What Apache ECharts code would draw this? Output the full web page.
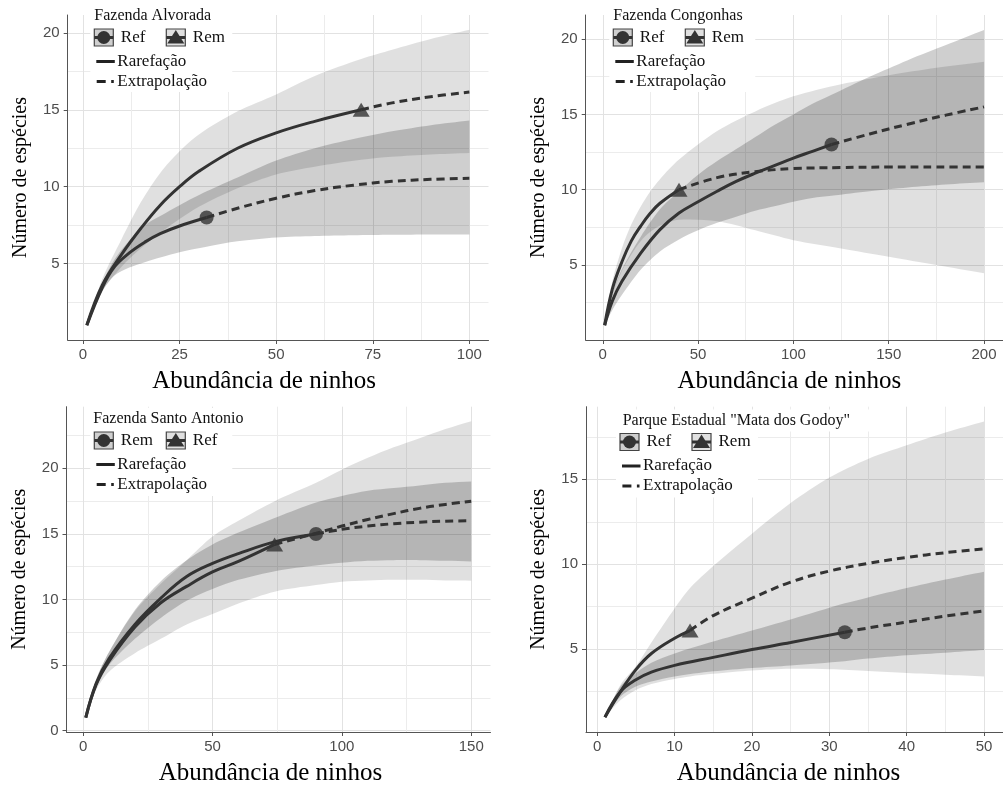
<!DOCTYPE html>
<html>
<head>
<meta charset="utf-8">
<script src="https://cdn.jsdelivr.net/npm/echarts@6/dist/echarts.min.js"></script>
<style>
  html, body { margin: 0; padding: 0; background: #fff; }
  #chart { width: 1003px; height: 787px; }
</style>
</head>
<body>
<div id="chart"></div>
<script>
// ---- data ----
// Fazenda Alvorada
const alvRefX = [1, 5, 8, 12, 16, 20, 25, 32, 40, 50, 60, 70, 80, 90, 100];
const alvRefY = [1, 3.45, 4.75, 5.7, 6.4, 6.95, 7.45, 8.0, 8.6, 9.25, 9.75, 10.1, 10.35, 10.48, 10.55];
const alvRefLo = [1, 3.2, 4.2, 4.75, 5.1, 5.4, 5.75, 6.1, 6.45, 6.7, 6.8, 6.85, 6.88, 6.9, 6.9];
const alvRefHi = [1, 3.7, 5.2, 6.5, 7.5, 8.1, 8.8, 9.7, 10.6, 11.7, 12.5, 13.1, 13.6, 14.0, 14.3];
const alvRemX = [1, 5, 10, 15, 20, 25, 30, 40, 50, 60, 72, 80, 90, 100];
const alvRemY = [1, 3.6, 5.6, 7.3, 8.8, 10.0, 11.0, 12.5, 13.5, 14.25, 15.0, 15.45, 15.85, 16.15];
const alvRemLo = [1, 3.2, 4.8, 6.0, 7.0, 7.9, 8.7, 9.9, 10.8, 11.3, 11.75, 11.95, 12.1, 12.2];
const alvRemHi = [1, 4.0, 6.6, 9.0, 10.9, 12.3, 13.4, 14.9, 16.0, 17.2, 18.3, 18.9, 19.6, 20.2];

// Fazenda Congonhas
const conRefX = [1, 5, 10, 20, 30, 40, 50, 60, 70, 80, 90, 100, 110, 120, 140, 160, 180, 200];
const conRefY = [1, 2.6, 3.9, 5.8, 7.35, 8.45, 9.2, 9.9, 10.55, 11.1, 11.6, 12.1, 12.55, 13, 13.7, 14.35, 14.95, 15.5];
const conRefLo = [1, 2.0, 3.0, 4.7, 5.9, 6.7, 7.3, 7.8, 8.2, 8.6, 8.9, 9.2, 9.45, 9.6, 9.9, 10.15, 10.35, 10.5];
const conRefHi = [1, 3.1, 4.7, 6.9, 8.7, 9.9, 11.0, 11.9, 12.7, 13.5, 14.3, 15.0, 15.7, 16.3, 17.5, 18.6, 19.6, 20.6];
const conRemX = [1, 5, 10, 15, 20, 25, 30, 40, 60, 80, 100, 125, 150, 175, 200];
const conRemY = [1, 3.4, 5.2, 6.6, 7.6, 8.45, 9.1, 10.0, 10.8, 11.2, 11.4, 11.47, 11.5, 11.5, 11.5];
const conRemLo = [1, 3.0, 4.6, 5.7, 6.6, 7.2, 7.6, 8.0, 7.9, 7.3, 6.65, 6.1, 5.55, 5.0, 4.45];
const conRemHi = [1, 3.9, 6.1, 7.7, 8.9, 9.9, 10.7, 12.0, 13.9, 15.2, 16.2, 17.0, 17.6, 18.1, 18.5];

// Fazenda Santo Antonio
const sanRemX = [1, 5, 10, 20, 30, 40, 50, 60, 75, 90, 100, 110, 120, 130, 140, 150];
const sanRemY = [1, 3.6, 5.5, 8.1, 10.1, 11.75, 12.75, 13.5, 14.45, 15.0, 15.35, 15.6, 15.78, 15.9, 15.97, 16.0];
const sanRemLo = [1, 3.3, 5.0, 7.0, 8.6, 9.9, 10.8, 11.5, 12.2, 12.6, 12.8, 12.95, 13.0, 13.0, 12.95, 12.9];
const sanRemHi = [1, 3.9, 6.0, 9.2, 11.4, 13.0, 14.2, 15.1, 16.3, 17.4, 17.9, 18.3, 18.5, 18.7, 18.9, 19.0];
const sanRefX = [1, 5, 10, 20, 30, 40, 50, 60, 74, 90, 100, 110, 120, 130, 140, 150];
const sanRefY = [1, 3.5, 5.3, 7.9, 9.75, 11.0, 12.1, 12.9, 14.2, 15.05, 15.6, 16.1, 16.55, 16.95, 17.25, 17.5];
const sanRefLo = [1, 3.1, 4.5, 5.9, 7.0, 8.1, 8.9, 9.7, 10.6, 11.1, 11.35, 11.45, 11.5, 11.5, 11.45, 11.44];
const sanRefHi = [1, 3.9, 6.0, 9.1, 11.2, 13.0, 14.8, 16.0, 17.5, 18.9, 19.9, 20.8, 21.6, 22.3, 23.0, 23.6];

// Parque Estadual "Mata dos Godoy"
const godRefX = [1, 3, 5, 7, 10, 15, 20, 25, 32, 35, 40, 45, 50];
const godRefY = [1, 2.5, 3.2, 3.65, 4.05, 4.52, 4.98, 5.4, 6.0, 6.25, 6.6, 6.95, 7.25];
const godRefLo = [1, 2.2, 2.8, 3.1, 3.4, 3.7, 3.9, 4.05, 4.3, 4.45, 4.65, 4.8, 4.96];
const godRefHi = [1, 2.8, 3.6, 4.2, 4.75, 5.45, 6.1, 6.75, 7.7, 8.05, 8.6, 9.1, 9.56];
const godRemX = [1, 3, 5, 7, 10, 12, 15, 20, 25, 30, 35, 40, 45, 50];
const godRemY = [1, 2.5, 3.8, 4.75, 5.65, 6.1, 6.98, 8.0, 8.95, 9.6, 10.05, 10.4, 10.68, 10.9];
const godRemLo = [1, 2.0, 2.6, 2.95, 3.25, 3.4, 3.55, 3.75, 3.85, 3.82, 3.72, 3.6, 3.5, 3.4];
const godRemHi = [1, 2.9, 4.0, 5.4, 7.4, 8.6, 9.9, 11.8, 13.6, 15.1, 16.2, 17.0, 17.75, 18.4];

// tick labels
const alvXTicks = [0, 25, 50, 75, 100];
const alvXMinor = [12.5, 37.5, 62.5, 87.5];
const conXTicks = [0, 50, 100, 150, 200];
const conXMinor = [25, 75, 125, 175];
const sanXTicks = [0, 50, 100, 150];
const sanXMinor = [25, 75, 125];
const godXTicks = [0, 10, 20, 30, 40, 50];
const godXMinor = [5, 15, 25, 35, 45];
const yTicks20 = [5, 10, 15, 20];
const yMinor20 = [2.5, 7.5, 12.5, 17.5];
const sanYTicks = [0, 5, 10, 15, 20];
const sanYMinor = [2.5, 7.5, 12.5, 17.5, 22.5];
const godYTicks = [5, 10, 15];
const godYMinor = [2.5, 7.5, 12.5, 17.5];

// ---- styling ----
const LIGHT = 'rgba(0,0,0,0.122)';
const MEDIUM = 'rgba(0,0,0,0.19)';
const INK = '#333333';
const AXIS = '#555555';

function site(name, symbol, fill, xs, ys, lo, hi, n) {
  return { name, symbol, fill, xs, ys, lo, hi, n };
}

const panels = [
  {
    grid: { left: 67.7, top: 15, width: 420.8, height: 325 },
    xMin: -3.95, xMax: 104.95, xTicks: alvXTicks, xMinor: alvXMinor,
    yMin: 0.04, yMax: 21.16, yTicks: yTicks20, yMinor: yMinor20,
    nameShift: 14,
    legend: { title: 'Fazenda Alvorada', x: 94.3, y: 16, tdx: 0, w1: 142, w2: 142, h: 87 },
    sites: [
      site('Ref', 'circle', MEDIUM, alvRefX, alvRefY, alvRefLo, alvRefHi, 32),
      site('Rem', 'triangle', LIGHT, alvRemX, alvRemY, alvRemLo, alvRemHi, 72)
    ]
  },
  {
    grid: { left: 585.7, top: 15, width: 420.7, height: 325 },
    xMin: -8.95, xMax: 209.95, xTicks: conXTicks, xMinor: conXMinor,
    yMin: 0.02, yMax: 21.6, yTicks: yTicks20, yMinor: yMinor20,
    nameShift: 5,
    legend: { title: 'Fazenda Congonhas', x: 613.3, y: 16, tdx: 0, w1: 146, w2: 146, h: 87 },
    sites: [
      site('Ref', 'circle', MEDIUM, conRefX, conRefY, conRefLo, conRefHi, 120),
      site('Rem', 'triangle', LIGHT, conRemX, conRemY, conRemLo, conRemHi, 40)
    ]
  },
  {
    grid: { left: 66.5, top: 406.7, width: 424, height: 326 },
    xMin: -6.45, xMax: 157.45, xTicks: sanXTicks, xMinor: sanXMinor,
    yMin: -0.1, yMax: 24.7, yTicks: sanYTicks, yMinor: sanYMinor,
    nameShift: 8,
    legend: { title: 'Fazenda Santo Antonio', x: 94.3, y: 419, tdx: -1, w1: 162, w2: 142, h: 88 },
    sites: [
      site('Rem', 'circle', MEDIUM, sanRemX, sanRemY, sanRemLo, sanRemHi, 90),
      site('Ref', 'triangle', LIGHT, sanRefX, sanRefY, sanRefLo, sanRefHi, 74)
    ]
  },
  {
    grid: { left: 586, top: 406.7, width: 420.9, height: 325.6 },
    xMin: -1.45, xMax: 52.45, xTicks: godXTicks, xMinor: godXMinor,
    yMin: 0.13, yMax: 19.27, yTicks: godYTicks, yMinor: godYMinor,
    nameShift: 6,
    legend: { title: 'Parque Estadual "Mata dos Godoy"', x: 620, y: 420.5, tdx: 2.7, w1: 254, w2: 142, h: 88 },
    sites: [
      site('Ref', 'circle', MEDIUM, godRefX, godRefY, godRefLo, godRefHi, 32),
      site('Rem', 'triangle', LIGHT, godRemX, godRemY, godRemLo, godRemHi, 12)
    ]
  }
];

// confidence band: one smoothed polygon through the library's coords
function bandRenderer(band, fill) {
  return function (params, api) {
    if (params.dataIndex !== 0) return null;
    const top = band.map((b) => api.coord([b[0], b[2]]));
    const bot = band.slice().reverse().map((b) => api.coord([b[0], b[1]]));
    const pts = [];
    top.forEach((p, k) => {
      pts.push(p);
      if (k === 0 || k === top.length - 1) pts.push(p.slice());
    });
    bot.forEach((p, k) => {
      pts.push(p);
      if (k === 0 || k === bot.length - 1) pts.push(p.slice());
    });
    return {
      type: 'polygon',
      shape: { points: pts, smooth: 0.3 },
      style: { fill: fill }
    };
  };
}

const grids = [], xAxes = [], yAxes = [], series = [], graphics = [];

panels.forEach((p, i) => {
  grids.push(Object.assign({ containLabel: false }, p.grid));

  xAxes.push({
    type: 'value', gridIndex: i, min: p.xMin, max: p.xMax,
    name: 'Abundância de ninhos', nameLocation: 'middle', nameGap: 29,
    nameTextStyle: { fontFamily: 'Liberation Serif', fontSize: 25, color: '#000',
      padding: [0, 2 * p.nameShift, 0, 0] },
    axisLine: { onZero: false, lineStyle: { color: AXIS, width: 1 } },
    axisTick: { customValues: p.xTicks, length: 4, lineStyle: { color: AXIS } },
    axisLabel: { customValues: p.xTicks, margin: 7, color: '#4d4d4d', fontSize: 15,
      fontFamily: 'Liberation Sans' },
    splitLine: { show: true, lineStyle: { color: '#e2e2e2', width: 1 } }
  });
  xAxes.push({
    type: 'value', gridIndex: i, min: p.xMin, max: p.xMax,
    axisLine: { show: false },
    axisTick: { show: false, customValues: p.xMinor },
    axisLabel: { show: false },
    splitLine: { show: true, lineStyle: { color: '#ececec', width: 1 } }
  });
  yAxes.push({
    type: 'value', gridIndex: i, min: p.yMin, max: p.yMax,
    name: 'Número de espécies', nameLocation: 'middle', nameGap: 37,
    nameTextStyle: { fontFamily: 'Liberation Serif', fontSize: 20, color: '#000' },
    axisLine: { show: true, onZero: false, lineStyle: { color: AXIS, width: 1 } },
    axisTick: { show: true, customValues: p.yTicks, length: 4, lineStyle: { color: AXIS } },
    axisLabel: { customValues: p.yTicks, margin: 8, color: '#4d4d4d', fontSize: 15,
      fontFamily: 'Liberation Sans' },
    splitLine: { show: true, lineStyle: { color: '#e2e2e2', width: 1 } }
  });
  yAxes.push({
    type: 'value', gridIndex: i, min: p.yMin, max: p.yMax,
    axisLine: { show: false },
    axisTick: { show: false, customValues: p.yMinor },
    axisLabel: { show: false },
    splitLine: { show: true, lineStyle: { color: '#ececec', width: 1 } }
  });

  // confidence bands
  p.sites.forEach((s) => {
    const band = s.xs.map((x, k) => [x, s.lo[k], s.hi[k]]);
    series.push({
      type: 'custom', xAxisIndex: 2 * i, yAxisIndex: 2 * i,
      silent: true, animation: false, z: 1,
      data: band,
      encode: { x: 0, y: [1, 2] },
      renderItem: bandRenderer(band, s.fill)
    });
  });

  // curves and reference points
  const base = {
    type: 'line', xAxisIndex: 2 * i, yAxisIndex: 2 * i, symbol: 'none',
    smooth: 0.4, silent: true, animation: false
  };
  p.sites.forEach((s) => {
    const k = s.xs.indexOf(s.n);
    const pts = s.xs.map((x, m) => [x, s.ys[m]]);
    series.push(Object.assign({}, base, {
      z: 3, data: pts.slice(0, k + 1),
      lineStyle: { color: INK, width: 3 }
    }));
    series.push(Object.assign({}, base, {
      z: 3, data: pts.slice(k),
      lineStyle: { color: INK, width: 3, type: [8, 5] }
    }));
    series.push({
      type: 'scatter', xAxisIndex: 2 * i, yAxisIndex: 2 * i, silent: true, animation: false,
      z: 4, data: [pts[k]], symbol: s.symbol,
      symbolSize: s.symbol === 'circle' ? 14 : [17, 14],
      itemStyle: { color: INK }
    });
  });

  // legend drawn as graphic
  const L = p.legend;
  graphics.push({ type: 'rect', z: 50, shape: { x: L.x - 4, y: L.y - 11, width: L.w1, height: 22 },
    style: { fill: '#fff' } });
  graphics.push({ type: 'rect', z: 50, shape: { x: L.x - 4, y: L.y + 10, width: L.w2, height: L.h - 21 },
    style: { fill: '#fff' } });
  graphics.push({ type: 'text', z: 51, x: L.x + L.tdx, y: L.y,
    style: { text: L.title, font: '16px "Liberation Serif"', fill: '#111', verticalAlign: 'middle' } });
  const ky = L.y + 21.5;
  p.sites.forEach((s, j) => {
    const bx = L.x + j * 72;
    const cx = bx + 9.5;
    graphics.push({ type: 'rect', z: 51, shape: { x: bx, y: ky - 8.5, width: 19, height: 17 },
      style: { fill: s.fill, stroke: '#444', lineWidth: 1.2 } });
    graphics.push({ type: 'line', z: 52, shape: { x1: bx, y1: ky, x2: bx + 19, y2: ky },
      style: { stroke: INK, lineWidth: 3 } });
    if (s.symbol === 'circle') {
      graphics.push({ type: 'circle', z: 53, shape: { cx, cy: ky, r: 6.5 }, style: { fill: INK } });
    } else {
      graphics.push({ type: 'polygon', z: 53,
        shape: { points: [[cx, ky - 7.5], [cx + 8.5, ky + 6], [cx - 8.5, ky + 6]] },
        style: { fill: INK } });
    }
    graphics.push({ type: 'text', z: 52, x: bx + 26.5, y: ky,
      style: { text: s.name, font: '17px "Liberation Serif"', fill: '#111', verticalAlign: 'middle' } });
  });
  const ly1 = L.y + 45.5, ly2 = L.y + 65.5;
  graphics.push({ type: 'line', z: 52, shape: { x1: L.x + 2, y1: ly1, x2: L.x + 20.5, y2: ly1 },
    style: { stroke: '#222', lineWidth: 3 } });
  graphics.push({ type: 'text', z: 52, x: L.x + 23, y: ly1,
    style: { text: 'Rarefação', font: '17px "Liberation Serif"', fill: '#111', verticalAlign: 'middle' } });
  graphics.push({ type: 'line', z: 52, shape: { x1: L.x + 2.4, y1: ly2, x2: L.x + 19.5, y2: ly2 },
    style: { stroke: '#222', lineWidth: 3, lineDash: [9, 5.5] } });
  graphics.push({ type: 'text', z: 52, x: L.x + 23, y: ly2,
    style: { text: 'Extrapolação', font: '17px "Liberation Serif"', fill: '#111', verticalAlign: 'middle' } });
});

const chart = echarts.init(document.getElementById('chart'));
chart.setOption({
  backgroundColor: '#ffffff',
  animation: false,
  grid: grids,
  xAxis: xAxes,
  yAxis: yAxes,
  series: series,
  graphic: graphics
});
</script>
</body>
</html>
